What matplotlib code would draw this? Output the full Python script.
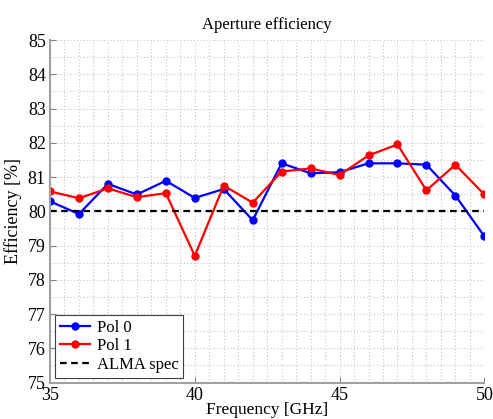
import numpy as np
import matplotlib.pyplot as plt
from matplotlib.ticker import MultipleLocator

# === data ===
freq = [35, 36, 37, 38, 39, 40, 41, 42, 43, 44, 45, 46, 47, 48, 49, 50]
pol0 = [80.29, 79.92, 80.80, 80.49, 80.89, 80.39, 80.65, 79.74,
        81.40, 81.11, 81.14, 81.40, 81.40, 81.36, 80.46, 79.27]
pol1 = [80.58, 80.38, 80.67, 80.41, 80.53, 78.70, 80.75, 80.25,
        81.16, 81.25, 81.06, 81.63, 81.95, 80.61, 81.36, 80.49]
alma_spec = 80

plt.rcParams["font.family"] = ["Liberation Serif", "DejaVu Serif"]

# === plotting ===
fig = plt.figure(figsize=(4.93, 4.19), dpi=100)
ax = fig.add_axes([0.1014, 0.087, 0.881, 0.8175])

ax.plot(freq, pol0, color="blue", marker="o", markersize=5, linewidth=1.6, label="Pol 0")
ax.plot(freq, pol1, color="red", marker="o", markersize=5, linewidth=1.6, label="Pol 1")
ax.axhline(alma_spec, color="black", linestyle=(0, (3, 2)), linewidth=1.6, label="ALMA spec")

ax.set_xlim(35, 50)
ax.set_ylim(75, 85)
ax.xaxis.set_major_locator(MultipleLocator(5))
ax.xaxis.set_minor_locator(MultipleLocator(0.5))
ax.yaxis.set_major_locator(MultipleLocator(1))
ax.yaxis.set_minor_locator(MultipleLocator(0.5))

# grid, dotted everywhere
ax.grid(True, which="both", color="#c4c4c4", linestyle=(0, (1, 2)), linewidth=0.8)
ax.set_axisbelow(True)

for side in ["top", "right"]:
    ax.spines[side].set_visible(False)
for side in ["left", "bottom"]:
    ax.spines[side].set_color("#a0a0a0")
    ax.spines[side].set_linewidth(1.5)

ax.tick_params(which="major", direction="in", length=4, color="#808080", labelsize=13, pad=3)
ax.tick_params(which="minor", length=0)

ax.set_title("Aperture efficiency", fontsize=12, pad=8)
ax.set_xlabel("Frequency [GHz]", fontsize=12.5, labelpad=-1)
ax.set_ylabel("Efficiency [%]", fontsize=13, labelpad=4)

leg = ax.legend(loc="lower left", fontsize=12, fancybox=False, framealpha=1,
                edgecolor="#404040", handlelength=1.8, borderpad=0.3,
                labelspacing=0.15, handletextpad=0.4, borderaxespad=0.3)
leg.get_frame().set_linewidth(0.8)

plt.savefig("out.png", dpi=100)
